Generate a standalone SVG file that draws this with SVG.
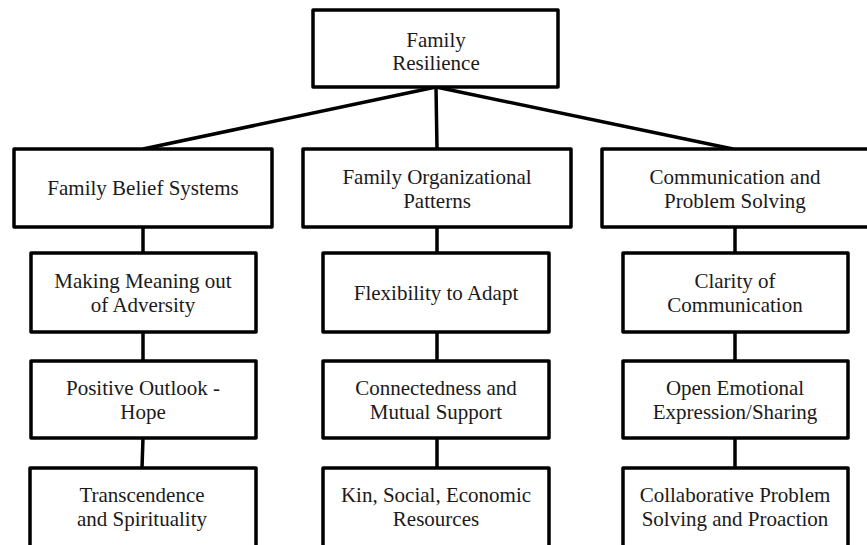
<svg xmlns="http://www.w3.org/2000/svg" width="867" height="545" viewBox="0 0 867 545">
<style>
.box{fill:#fff;stroke:#000;stroke-width:3.5;stroke-linejoin:round}
.con{stroke:#000;stroke-width:3.5;fill:none}
text{font-family:"Liberation Serif","Times New Roman",serif;font-size:21px;fill:#1a1a1a;text-anchor:middle}
</style>
<rect width="867" height="545" fill="#fff"/>
<g id="connectors">
<line class="con" x1="436" y1="87" x2="143" y2="149"/>
<line class="con" x1="436" y1="87" x2="437" y2="149"/>
<line class="con" x1="436" y1="87" x2="733" y2="149"/>
<line class="con" x1="143" y1="227" x2="143" y2="253"/>
<line class="con" x1="143" y1="332" x2="143" y2="361"/>
<line class="con" x1="143" y1="438" x2="142" y2="468"/>
<line class="con" x1="437" y1="227" x2="437" y2="253"/>
<line class="con" x1="437" y1="332" x2="437" y2="361"/>
<line class="con" x1="437" y1="438" x2="437" y2="468"/>
<line class="con" x1="735" y1="227" x2="735" y2="253"/>
<line class="con" x1="735" y1="332" x2="735" y2="361"/>
<line class="con" x1="735" y1="438" x2="735" y2="468"/>
</g>
<g id="root">
<rect class="box" x="313" y="10" width="245" height="77"/>
<text x="436" y="47">Family</text>
<text x="436" y="70">Resilience</text>
</g>
<g id="beliefs">
<rect class="box" x="14" y="149" width="258" height="78"/>
<text x="143" y="195">Family Belief Systems</text>
</g>
<g id="organizational">
<rect class="box" x="303" y="149" width="268" height="78"/>
<text x="437" y="184">Family Organizational</text>
<text x="437" y="208">Patterns</text>
</g>
<g id="communication">
<rect class="box" x="602" y="149" width="268" height="78"/>
<text x="735" y="184">Communication and</text>
<text x="735" y="208">Problem Solving</text>
</g>
<g id="meaning">
<rect class="box" x="31" y="253" width="225" height="79"/>
<text x="143" y="288">Making Meaning out</text>
<text x="143" y="312">of Adversity</text>
</g>
<g id="outlook">
<rect class="box" x="31" y="361" width="225" height="77"/>
<text x="143" y="395">Positive Outlook -</text>
<text x="143" y="419">Hope</text>
</g>
<g id="transcendence">
<rect class="box" x="30" y="468" width="226" height="79"/>
<text x="142" y="502">Transcendence</text>
<text x="142" y="526">and Spirituality</text>
</g>
<g id="flexibility">
<rect class="box" x="323" y="253" width="226" height="79"/>
<text x="436" y="300">Flexibility to Adapt</text>
</g>
<g id="connectedness">
<rect class="box" x="323" y="361" width="226" height="77"/>
<text x="436" y="395">Connectedness and</text>
<text x="436" y="419">Mutual Support</text>
</g>
<g id="resources">
<rect class="box" x="323" y="468" width="226" height="79"/>
<text x="436" y="502">Kin, Social, Economic</text>
<text x="436" y="526">Resources</text>
</g>
<g id="clarity">
<rect class="box" x="623" y="253" width="225" height="79"/>
<text x="735" y="288">Clarity of</text>
<text x="735" y="312">Communication</text>
</g>
<g id="emotional">
<rect class="box" x="623" y="361" width="225" height="77"/>
<text x="735" y="395">Open Emotional</text>
<text x="735" y="419">Expression/Sharing</text>
</g>
<g id="collaborative">
<rect class="box" x="623" y="468" width="225" height="79"/>
<text x="735" y="502">Collaborative Problem</text>
<text x="735" y="526">Solving and Proaction</text>
</g>
</svg>
